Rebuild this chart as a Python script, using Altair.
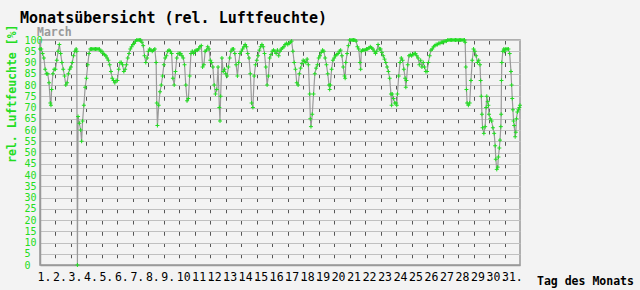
import json
import altair as alt
import pandas as pd

# ---- chart texts ----
main_title = "Monatsübersicht (rel. Luftfeuchte)"
month_label = "March"
y_title = "rel. Luftfeuchte [%]"
x_title = "Tag des Monats"

# ---- tick labels ----
day_labels = ["1.", "2.", "3.", "4.", "5.", "6.", "7.", "8.", "9.", "10.",
              "11.", "12.", "13.", "14.", "15.", "16.", "17.", "18.", "19.", "20.",
              "21.", "22.", "23.", "24.", "25.", "26.", "27.", "28.", "29.", "30.", "31."]
y_ticks = [0, 5, 10, 15, 20, 25, 30, 35, 40, 45, 50, 55, 60, 65, 70, 75, 80, 85, 90, 95, 100]

# ---- readings per day: (hour, relative humidity %) ----
d01 = [(0, 96), (2, 96), (4, 94), (6, 92), (8, 87), (10, 85), (12, 85), (14, 81), (16, 72), (17, 71), (18, 78), (20, 85), (22, 87)]
d02 = [(0, 87), (2, 91), (4, 95), (6, 98), (8, 94), (10, 90), (12, 87), (14, 84), (16, 80), (18, 81), (20, 85), (22, 87)]
d03 = [(0, 88), (2, 90), (4, 93), (6, 95), (8, 96), (9, 95), (10, 0), (11, 66), (13, 63), (15, 60), (16.5, 55), (18, 64), (20, 71), (22, 79)]
d04 = [(0, 83), (2, 89), (4, 94), (6, 96), (8, 96), (10, 96), (12, 96), (14, 96), (16, 96), (18, 96), (20, 96), (22, 95)]
d05 = [(0, 95), (2, 94), (4, 93.5), (6, 93), (8, 92), (10, 91), (12, 89), (14, 86), (16, 83), (18, 82), (20, 81), (22, 82)]
d06 = [(0, 82), (2, 87), (4, 90), (6, 90), (8, 89), (10, 86), (12, 87), (14, 89), (16, 92), (18, 94), (20, 96), (22, 97)]
d07 = [(0, 98), (2, 98.5), (4, 99.5), (6, 100), (8, 100), (10, 100), (12, 100), (14, 99), (16, 97.5), (18, 93), (20, 90), (22, 92)]
d08 = [(0, 95), (2, 96), (4, 95.5), (6, 95), (8, 95.5), (10, 96), (12, 90), (13, 72), (14, 62), (16, 71), (18, 77), (20, 80), (22, 84)]
d09 = [(0, 89), (2, 92), (4, 93), (6, 95), (8, 95.5), (10, 95), (12, 94), (14, 83), (16, 80), (18, 86), (20, 92), (22, 94)]
d10 = [(0, 94), (2, 94), (4, 93), (6, 92), (8, 89), (10, 80), (12, 73), (14, 74), (16, 84), (18, 94), (20, 95), (22, 94)]
d11 = [(0, 95), (2, 95.5), (4, 95.5), (6, 96), (8, 97), (10, 97.5), (12, 88), (14, 89), (16, 95), (18, 95.5), (20, 97), (22, 96)]
d12 = [(0, 91), (2, 90), (4, 88), (6, 80), (8, 76), (10, 78), (12, 88), (14, 70), (15, 64), (16, 75), (18, 92), (20, 86), (22, 87)]
d13 = [(0, 85), (2, 84), (4, 88), (6, 92), (8, 95), (10, 96), (12, 96), (14, 94), (16, 89), (18, 84), (20, 90), (22, 94)]
d14 = [(0, 95), (2, 96), (4, 97), (6, 98), (8, 97), (10, 94), (12, 92), (14, 85), (16, 72), (18, 70), (20, 84), (22, 89)]
d15 = [(0, 91), (2, 93), (4, 95.5), (6, 97), (8, 98), (10, 97), (12, 94), (14, 88), (16, 80), (18, 84), (20, 92), (22, 93.5)]
d16 = [(0, 95), (2, 95.5), (4, 95), (6, 94), (8, 95.5), (10, 93), (12, 95), (14, 96), (16, 96.5), (18, 97), (20, 98), (22, 98.5)]
d17 = [(0, 98), (2, 98.5), (4, 99), (6, 99.5), (8, 95), (10, 90), (12, 87), (14, 81), (16, 80), (18, 85), (20, 87.5), (22, 89.5)]
d18 = [(0, 91), (2, 90.5), (4, 90), (6, 91.5), (8, 89), (10, 76), (11, 65), (12, 61.5), (14, 67), (16, 76), (18, 85), (20, 87.5), (22, 89)]
d19 = [(0, 92), (2, 93), (4, 94.5), (6, 95.5), (8, 95), (10, 92), (12, 89), (14, 85), (16, 80), (17, 78), (18, 80), (20, 87), (22, 91)]
d20 = [(0, 92), (2, 93), (4, 93.5), (6, 94), (8, 95), (10, 95.5), (12, 93), (14, 88), (16, 84), (17, 83), (18, 90), (20, 94), (22, 97.5)]
d21 = [(0, 100), (2, 100), (4, 100), (6, 100), (8, 100), (10, 99.5), (12, 97), (14, 96), (16, 90), (17, 87), (18, 95), (20, 95.5), (22, 95.5)]
d22 = [(0, 95.5), (2, 96), (4, 96), (6, 96.5), (8, 97), (10, 96.5), (12, 96), (14, 95), (16, 94), (18, 95), (20, 98), (22, 96)]
d23 = [(0, 96), (2, 94.5), (4, 93), (6, 91.5), (8, 90), (10, 88), (12, 86), (14, 83), (16, 76), (17, 71), (18, 76), (20, 74), (22, 72)]
d24 = [(0, 72), (1, 71), (2, 76), (4, 84), (6, 90), (8, 92), (10, 91), (12, 87), (14, 83), (15, 79), (16, 82), (18, 89), (20, 93), (22, 93.5)]
d25 = [(0, 93), (2, 93.5), (4, 94), (6, 94), (8, 93), (10, 92), (12, 89), (14, 91), (16, 88), (18, 90), (20, 88), (22, 86)]
d26 = [(0, 86), (2, 90), (4, 93), (6, 95.5), (8, 96), (10, 97), (12, 97.5), (14, 98), (16, 98), (18, 98.5), (20, 98.5), (22, 99)]
d27 = [(0, 99), (2, 99.3), (4, 99.5), (6, 99.5), (8, 100), (10, 100), (12, 100), (14, 100), (16, 100), (18, 100), (20, 100), (22, 100)]
d28 = [(0, 100), (2, 100), (4, 100), (6, 100), (8, 100), (10, 100), (11, 99), (12, 88), (13, 78), (14, 72), (16, 71), (18, 72), (20, 82), (22, 91)]
d29 = [(0, 96), (2, 95), (4, 93), (6, 90), (8, 91), (10, 89), (11, 82), (12, 75), (13, 67), (14, 61), (16, 58.5), (18, 61.5), (19.5, 70), (20.5, 75), (22, 72.6), (23, 71)]
d30 = [(0, 67), (2, 65), (4, 64), (6, 61), (8, 58.5), (9.5, 53), (10.5, 47), (12, 42.5), (13.5, 43.5), (14.5, 48), (16, 52), (17, 55.5), (18.3, 61.5), (18.8, 67), (19.3, 82), (19.8, 90), (21.4, 95), (23, 96)]
d31 = [(0, 95), (2, 96), (4, 96), (6, 96), (8, 94), (10, 86), (11, 80), (12, 74), (13, 69), (14, 64), (15, 62), (16.5, 57), (17.5, 59), (18.5, 65), (20, 68), (21.5, 69), (23, 70), (23.9, 71)]

days = [d01, d02, d03, d04, d05, d06, d07, d08, d09, d10, d11, d12, d13, d14, d15, d16,
        d17, d18, d19, d20, d21, d22, d23, d24, d25, d26, d27, d28, d29, d30, d31]

rows = []
for i, readings in enumerate(days):
    for hour, val in readings:
        rows.append({"t": i + hour / 24.0, "v": val})
df = pd.DataFrame(rows)

GREEN = "#22dd22"
MONO = "DejaVu Sans Mono"

x_enc = alt.X(
    "t:Q",
    scale=alt.Scale(domain=[0, 31], nice=False, zero=False),
    axis=alt.Axis(
        values=list(range(31)),
        labelExpr=json.dumps(day_labels) + "[datum.value]",
        labelAlign="left", labelOffset=-3, labelBaseline="top", labelPadding=6,
        labelFont=MONO, labelFontSize=11.5, labelColor="black",
        labelOverlap=False, labelFlush=False,
        ticks=False, grid=True, gridDash=[4, 7.25], gridColor="#555555", gridWidth=1,
        domain=True, domainColor="#999999", domainWidth=1.5, title=None,
    ),
)
y_enc = alt.Y(
    "v:Q",
    scale=alt.Scale(domain=[0, 100], nice=False, zero=False),
    axis=alt.Axis(
        values=y_ticks,
        labelAlign="left", labelPadding=16, labelBaseline="middle",
        labelFont=MONO, labelFontSize=10, labelColor=GREEN,
        labelOverlap=False, labelFlush=False,
        ticks=False, grid=True, gridColor="#c0c0c0", gridWidth=1,
        domain=True, domainColor="#999999", domainWidth=1.5,
        title=y_title, titleFont=MONO, titleFontSize=11.5, titleFontWeight="bold",
        titleColor=GREEN, titleAngle=270, titleAlign="right", titleBaseline="alphabetic",
        titleX=-25, titleY=-16,
    ),
)

line = alt.Chart(df).mark_line(color="#999999", strokeWidth=1.2).encode(x=x_enc, y=y_enc)
points = alt.Chart(df).mark_point(
    shape="M-1,0H1M0,-1V1", size=16, filled=False, color=GREEN, strokeWidth=1, opacity=1
).encode(x=x_enc, y=y_enc)

title_txt = alt.Chart(pd.DataFrame({"label": [main_title]})).mark_text(
    align="left", baseline="alphabetic", font=MONO, fontSize=15, fontWeight="bold", color="black"
).encode(text="label:N", x=alt.value(-20), y=alt.value(-17))
month_txt = alt.Chart(pd.DataFrame({"label": [month_label]})).mark_text(
    align="left", baseline="alphabetic", font=MONO, fontSize=11.5, fontWeight="bold", color="#999999"
).encode(text="label:N", x=alt.value(-3), y=alt.value(-4))
xtitle_txt = alt.Chart(pd.DataFrame({"label": [x_title]})).mark_text(
    align="left", baseline="alphabetic", font=MONO, fontSize=11.5, fontWeight="bold", color="black"
).encode(text="label:N", x=alt.value(497), y=alt.value(245))

chart = alt.layer(line, points, title_txt, month_txt, xtitle_txt).properties(
    width=480, height=225,
    autosize=alt.AutoSizeParams(type="none"),
    padding={"left": 40, "top": 40, "right": 120, "bottom": 25},
    background="#f3f3f3",
).configure_view(stroke="#999999", strokeWidth=1.5, fill="#f3f3f3")

chart.save("out.html", embed_options={"renderer": "svg", "actions": False})
